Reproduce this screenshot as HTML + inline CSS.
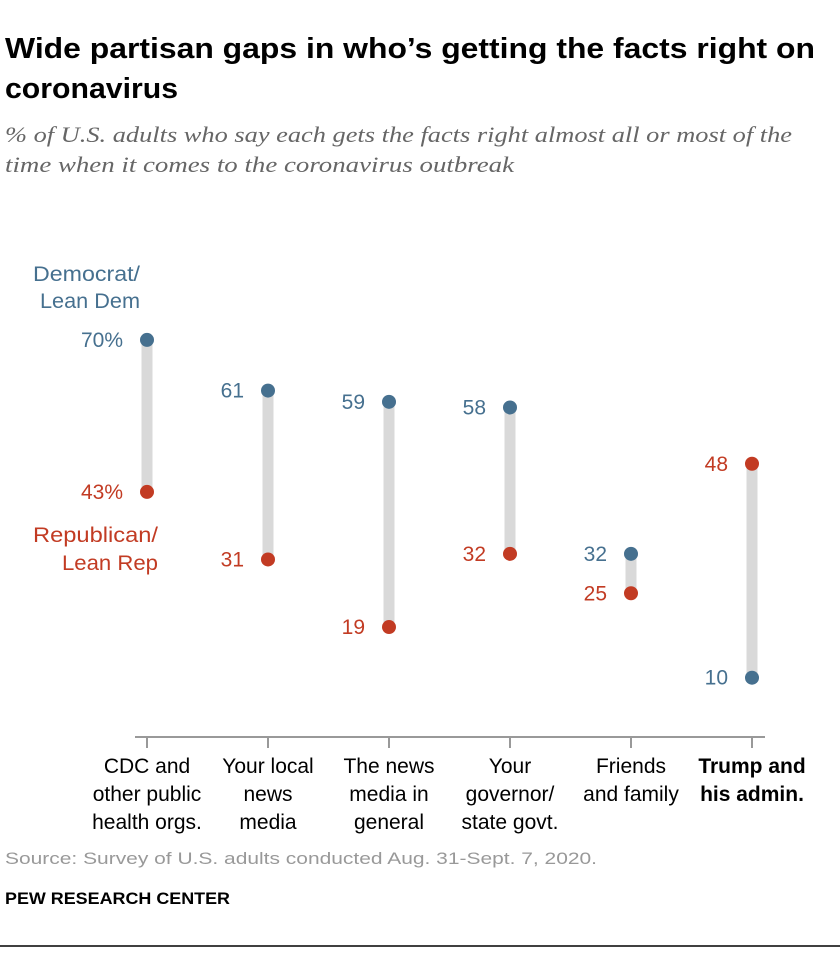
<!DOCTYPE html>
<html><head><meta charset="utf-8"><style>
body{margin:0;background:#fff;width:840px;height:972px;overflow:hidden;font-family:"Liberation Sans",sans-serif}
svg text{font-family:"Liberation Sans",sans-serif}
</style></head><body>
<svg width="840" height="972">
<text x="5" y="58" font-size="29" font-weight="bold" fill="#000" textLength="810" lengthAdjust="spacingAndGlyphs">Wide partisan gaps in who’s getting the facts right on</text>
<text x="5" y="98" font-size="29" font-weight="bold" fill="#000" textLength="173" lengthAdjust="spacingAndGlyphs">coronavirus</text>
<text x="5" y="142" font-size="22" font-style="italic" fill="#666" textLength="787" lengthAdjust="spacingAndGlyphs" style="font-family:'Liberation Serif',serif">% of U.S. adults who say each gets the facts right almost all or most of the</text>
<text x="5" y="172" font-size="22" font-style="italic" fill="#666" textLength="509" lengthAdjust="spacingAndGlyphs" style="font-family:'Liberation Serif',serif">time when it comes to the coronavirus outbreak</text>
<g id="plot"></g>
<text x="33" y="281" font-size="21" fill="#46708f" textLength="107" lengthAdjust="spacingAndGlyphs">Democrat/</text>
<text x="40" y="308" font-size="21" fill="#46708f" textLength="100" lengthAdjust="spacingAndGlyphs">Lean Dem</text>
<text x="33" y="542" font-size="21" fill="#c23b23" textLength="125" lengthAdjust="spacingAndGlyphs">Republican/</text>
<text x="62" y="570" font-size="21" fill="#c23b23" textLength="96" lengthAdjust="spacingAndGlyphs">Lean Rep</text>
<text x="5" y="864" font-size="17" fill="#999" textLength="592" lengthAdjust="spacingAndGlyphs">Source: Survey of U.S. adults conducted Aug. 31-Sept. 7, 2020.</text>
<text x="5" y="904" font-size="17" font-weight="bold" fill="#000" textLength="225" lengthAdjust="spacingAndGlyphs">PEW RESEARCH CENTER</text>
<line x1="0" y1="946" x2="840" y2="946" stroke="#000" stroke-width="1.5"/>
</svg>
<script>
const categories=[["CDC and","other public","health orgs."],["Your local","news","media"],["The news","media in","general"],["Your","governor/","state govt."],["Friends","and family"],["Trump and","his admin."]];
const demValues=[70,61,59,58,32,10];
const repValues=[43,31,19,32,25,48];
const NS="http://www.w3.org/2000/svg";
const g=document.getElementById('plot');
const xs=i=>147+i*121;
const ys=v=>734-v*5.63;
function mk(t,a){const e=document.createElementNS(NS,t);for(const k in a)e.setAttribute(k,a[k]);g.appendChild(e);return e;}
const axis=mk('line',{x1:135,y1:737,x2:765,y2:737,stroke:'#999','stroke-width':2});


categories.forEach((c,i)=>{
  const x=xs(i),d=demValues[i],r=repValues[i];
  const tk=mk('line',{x1:x,y1:737,x2:x,y2:748,stroke:'#999','stroke-width':2});
  
  
  const bar=mk('line',{x1:x,y1:ys(d),x2:x,y2:ys(r),stroke:'#d9d9d9','stroke-width':11});
  
  
  const dc=mk('circle',{cx:x,cy:ys(d),r:7,fill:'#46708f'});
  
  
  const rc=mk('circle',{cx:x,cy:ys(r),r:7,fill:'#c23b23'});
  
  
  const dt=mk('text',{x:x-24,y:ys(d)+7,'font-size':21,fill:'#46708f','text-anchor':'end'});
  dt.textContent=d+(i==0?'%':'');
  
  
  const rt=mk('text',{x:x-24,y:ys(r)+7,'font-size':21,fill:'#c23b23','text-anchor':'end'});
  rt.textContent=r+(i==0?'%':'');
  
  
  c.forEach((line,j)=>{
    const t=mk('text',{x:x,y:773+j*28,'font-size':21,fill:'#000','text-anchor':'middle','font-weight':i==5?'bold':'normal'});
    t.textContent=line;
    
    
  });
});
</script>
</body></html>
